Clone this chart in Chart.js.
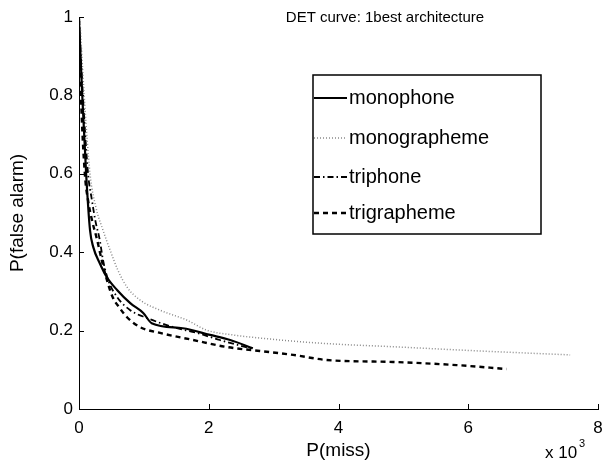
<!DOCTYPE html>
<html>
<head>
<meta charset="utf-8">
<script src="https://cdn.jsdelivr.net/npm/chart.js@4"></script>
<style>
  html, body { margin: 0; padding: 0; background: #fff; }
  #wrap { width: 602px; height: 462px; }
</style>
</head>
<body>
<div id="wrap"><canvas id="detChart" width="602" height="462"></canvas></div>
<script>
// P(miss) in thousands, P(false alarm)
const monophoneX = [0, 0.05, 0.11, 0.17, 0.22, 0.32, 0.43, 0.59, 0.79, 0.99, 1.12, 1.60, 2.02, 2.33, 2.68];
const monophoneY = [0.99, 0.80, 0.60, 0.456, 0.413, 0.372, 0.336, 0.303, 0.270, 0.245, 0.219, 0.206, 0.189, 0.176, 0.155];

const monographemeX = [0.015, 0.08, 0.17, 0.26, 0.37, 0.48, 0.60, 0.74, 0.94, 1.25, 1.66, 1.97, 2.37, 2.79, 3.71, 4.95, 6.18, 7.57];
const monographemeY = [0.99, 0.80, 0.60, 0.515, 0.456, 0.405, 0.354, 0.311, 0.278, 0.252, 0.227, 0.201, 0.189, 0.181, 0.168, 0.158, 0.148, 0.138];

const triphoneX = [0, 0.06, 0.14, 0.20, 0.25, 0.32, 0.37, 0.45, 0.59, 0.79, 1.05, 1.45, 1.82, 2.17, 2.68];
const triphoneY = [0.996, 0.80, 0.60, 0.532, 0.482, 0.431, 0.38, 0.329, 0.285, 0.252, 0.232, 0.209, 0.194, 0.176, 0.153];

const trigraphemeX = [0, 0.03, 0.09, 0.14, 0.20, 0.28, 0.35, 0.43, 0.52, 0.63, 0.74, 0.94, 1.25, 1.76, 2.28, 2.79, 3.30, 3.82, 4.84, 5.82, 6.59];
const trigraphemeY = [0.996, 0.80, 0.60, 0.532, 0.482, 0.431, 0.38, 0.329, 0.285, 0.257, 0.234, 0.209, 0.194, 0.176, 0.158, 0.148, 0.138, 0.125, 0.120, 0.112, 0.102];

const xTicks = [0, 2, 4, 6, 8];
const yTicks = [0, 0.2, 0.4, 0.6, 0.8, 1];

const FONT = '"Liberation Sans", Arial, Helvetica, sans-serif';

function toPoints(xs, ys) {
  return xs.map((x, i) => ({ x: x, y: ys[i] }));
}

// inward ticks, legend box, title and exponent label
const decorPlugin = {
  id: 'decor',
  afterDraw(chart) {
    const ctx = chart.ctx;
    const area = chart.chartArea;
    const xs = chart.scales.x;
    const ys = chart.scales.y;
    ctx.save();
    ctx.strokeStyle = '#000';
    ctx.lineWidth = 1;
    ctx.beginPath();
    xTicks.forEach(v => {
      const px = Math.round(xs.getPixelForValue(v)) + 0.5;
      ctx.moveTo(px, area.bottom);
      ctx.lineTo(px, area.bottom - 5);
    });
    yTicks.forEach(v => {
      const py = Math.round(ys.getPixelForValue(v)) + 0.5;
      ctx.moveTo(area.left, py);
      ctx.lineTo(area.left + 5, py);
    });
    ctx.stroke();

    // title
    ctx.fillStyle = '#000';
    ctx.font = '15px ' + FONT;
    ctx.textAlign = 'center';
    ctx.textBaseline = 'middle';
    ctx.fillText('DET curve: 1best architecture', 385, 18);

    // x 10^3
    ctx.font = '17px ' + FONT;
    ctx.textAlign = 'left';
    ctx.fillText('x 10', 545, 453);
    ctx.font = '11px ' + FONT;
    ctx.fillText('3', 579, 444);

    // legend
    const box = { left: 313, top: 75, right: 541, bottom: 234 };
    ctx.fillStyle = '#fff';
    ctx.fillRect(box.left, box.top, box.right - box.left, box.bottom - box.top);
    ctx.lineWidth = 1.5;
    ctx.strokeStyle = '#000';
    ctx.setLineDash([]);
    ctx.strokeRect(box.left, box.top, box.right - box.left, box.bottom - box.top);
    const rowsY = [98, 138, 177, 213];
    chart.data.datasets.forEach((ds, i) => {
      const y = rowsY[i];
      ctx.beginPath();
      ctx.strokeStyle = ds.borderColor;
      ctx.lineWidth = ds.borderWidth;
      ctx.setLineDash(ds.borderDash || []);
      ctx.moveTo(314, y);
      ctx.lineTo(347, y);
      ctx.stroke();
      ctx.setLineDash([]);
      ctx.fillStyle = '#000';
      ctx.font = '20px ' + FONT;
      ctx.textAlign = 'left';
      ctx.textBaseline = 'middle';
      ctx.fillText(ds.label, 349, y);
    });
    ctx.restore();
  }
};

new Chart(document.getElementById('detChart'), {
  type: 'line',
  data: {
    datasets: [
      {
        label: 'monophone',
        data: toPoints(monophoneX, monophoneY),
        borderColor: '#000',
        borderWidth: 2.2,
        borderDash: [],
      },
      {
        label: 'monographeme',
        data: toPoints(monographemeX, monographemeY),
        borderColor: '#8a8a8a',
        borderWidth: 1.5,
        borderDash: [1, 2],
      },
      {
        label: 'triphone',
        data: toPoints(triphoneX, triphoneY),
        borderColor: '#000',
        borderWidth: 1.8,
        borderDash: [6, 3, 1.5, 3],
      },
      {
        label: 'trigrapheme',
        data: toPoints(trigraphemeX, trigraphemeY),
        borderColor: '#000',
        borderWidth: 2.4,
        borderDash: [5, 4],
      },
    ],
  },
  options: {
    responsive: false,
    animation: false,
    cubicInterpolationMode: 'monotone',
    elements: { point: { radius: 0 } },
    layout: { padding: { top: 17, right: 4, left: 0, bottom: 0 } },
    plugins: {
      legend: { display: false },
      tooltip: { enabled: false },
    },
    scales: {
      x: {
        type: 'linear',
        min: 0,
        max: 8,
        afterFit(scale) {
          scale.height = 53;
          scale.paddingLeft = 0;
          scale.paddingRight = 0;
        },
        afterBuildTicks(scale) { scale.ticks = xTicks.map(v => ({ value: v })); },
        grid: { display: false, drawTicks: false },
        border: { display: true, color: '#000', width: 1 },
        ticks: { color: '#000', font: { family: FONT, size: 17 }, padding: 9, maxRotation: 0 },
        title: { display: true, text: 'P(miss)', color: '#000', font: { family: FONT, size: 19 }, padding: { top: 4, bottom: 0 } },
      },
      y: {
        type: 'linear',
        min: 0,
        max: 1,
        afterFit(scale) {
          scale.width = 79;
          scale.paddingTop = 0;
          scale.paddingBottom = 0;
        },
        afterBuildTicks(scale) { scale.ticks = yTicks.map(v => ({ value: v })); },
        grid: { display: false, drawTicks: false },
        border: { display: true, color: '#000', width: 1 },
        ticks: { color: '#000', font: { family: FONT, size: 17 }, padding: 6, callback: v => String(v) },
        title: { display: true, text: 'P(false alarm)', color: '#000', font: { family: FONT, size: 19 }, padding: { top: 6, bottom: 0 } },
      },
    },
  },
  plugins: [decorPlugin],
});
</script>
</body>
</html>
